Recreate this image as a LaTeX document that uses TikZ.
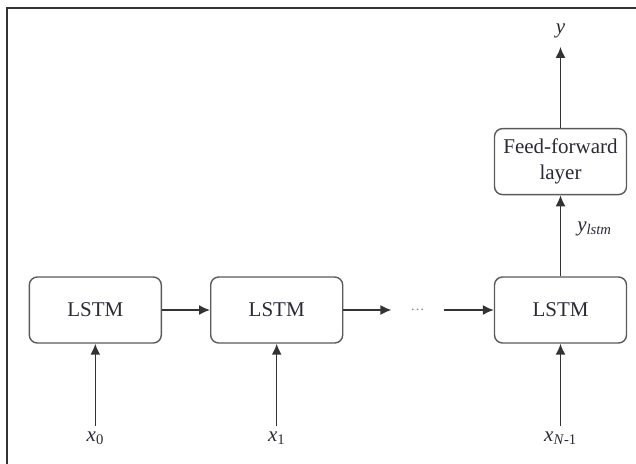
\documentclass[tikz,border=0pt]{standalone}
\usepackage{fontspec}
\setmainfont{Liberation Serif}
\usetikzlibrary{arrows.meta}
\usetikzlibrary{positioning}
\definecolor{edgegray}{HTML}{5A5A5A}
\definecolor{linegray}{HTML}{333333}
\definecolor{inkgray}{HTML}{2A2A35}
\tikzset{x=1pt, y=-1pt, >={Latex[length=11pt,width=10pt]}, font=\fontsize{21}{26}\selectfont}
\tikzstyle{cell} = [draw=edgegray, line width=1.4pt, rounded corners=8pt, fill=white, minimum width=132pt, minimum height=66pt, align=center, text=inkgray]
\tikzstyle{sig} = [inner sep=6pt, text=inkgray]
\tikzstyle{link} = [->, draw=linegray, line width=1.5pt]

\begin{document}
\begin{tikzpicture}
	\useasboundingbox (0,0) rectangle (636,463);
	\draw [linegray, line width=2pt] (7.3,470) -- (7.3,8.3) -- (645,8.3);

	\node [cell] at (95.3,310) (lstm0) {LSTM};
	\node [cell, right=48pt of lstm0] (lstm1) {LSTM};
	\node [minimum width=52pt, inner sep=0pt, text=gray, font=\fontsize{14}{14}\selectfont, right=48pt of lstm1] (dots) {\dots};
	\node [cell, right=50pt of dots] (lstm2) {LSTM};
	\node [cell, above=81pt of lstm2] (ffl) {Feed-forward\\layer};

	\node [sig, above=84pt of ffl] (y) {\textit{y}};
	\node [sig, below=82pt of lstm0] (x0) {\textit{x}\textsubscript{0}};
	\node [sig, below=82pt of lstm1] (x1) {\textit{x}\textsubscript{1}};
	\node [sig, below=82pt of lstm2] (xn) {\textit{x}\textsubscript{\textit{N}-1}};

	\draw [link] (lstm0) -- (lstm1);
	\draw [link] (lstm1) -- (dots);
	\draw [link] (dots) -- (lstm2);

	\draw [link] (x0) -- (lstm0);
	\draw [link] (x1) -- (lstm1);
	\draw [link] (xn) -- (lstm2);

	\draw [link] (lstm2) -- node [sig, right=10pt, pos=0.58] {\textit{y}\textsubscript{\textit{lstm}}} (ffl);
	\draw [link, shorten >=3pt] (ffl) -- (y);
\end{tikzpicture}
\end{document}
